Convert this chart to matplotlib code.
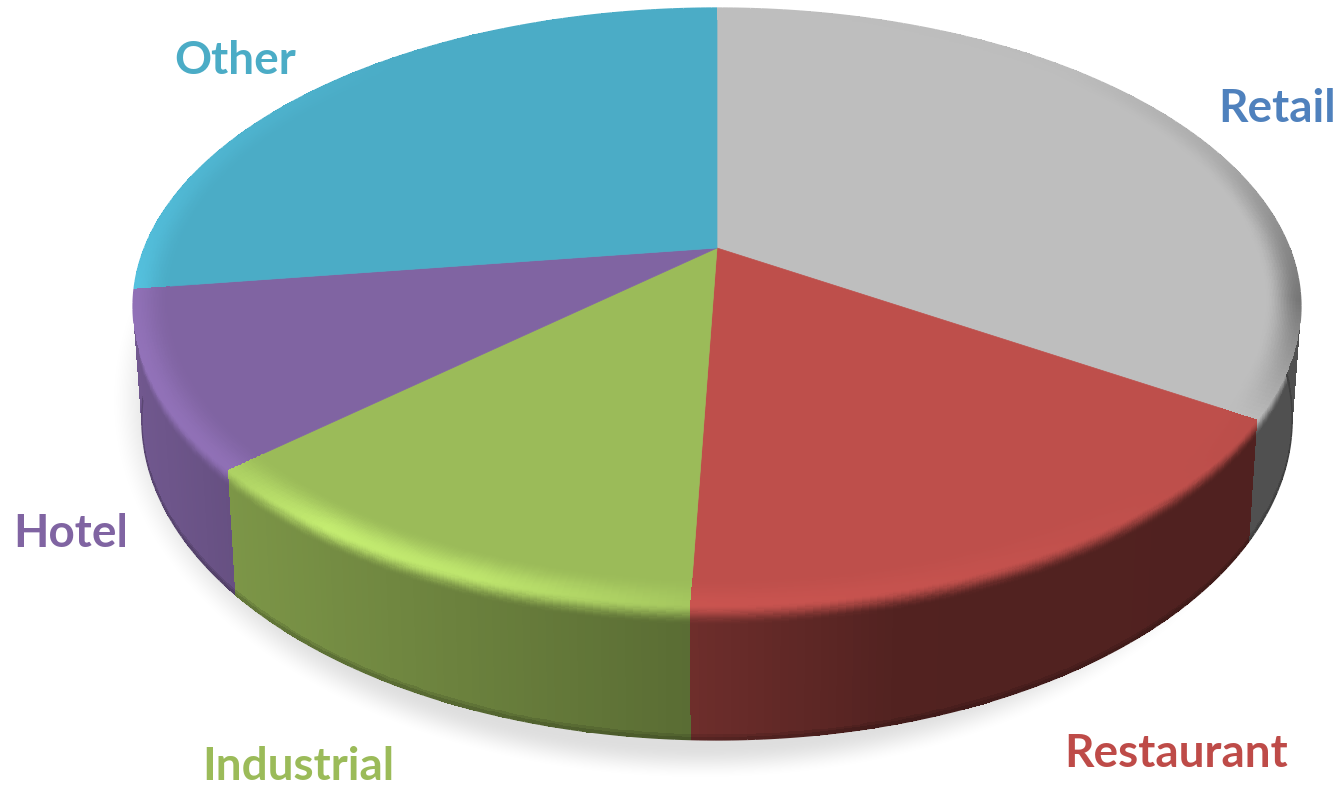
import numpy as np
import matplotlib
matplotlib.use('Agg')
import matplotlib.pyplot as plt
from matplotlib.collections import LineCollection
from matplotlib.colors import to_rgb

# sector shares in percent, clockwise from 12 o'clock
sectors = ['Retail', 'Restaurant', 'Industrial', 'Hotel', 'Other']
shares = [34.0, 16.6, 12.7, 9.5, 27.2]
face_colors = ['#BEBEBE', '#BE4F4B', '#9BBB59', '#8064A2', '#4BACC6']
label_colors = ['#4F81BD', '#BE4B48', '#9BBB59', '#8064A2', '#4BACC6']
label_pos = [(1277, 109), (1176, 754), (298, 767), (71, 534), (235, 61)]

# perspective of the disc, in pixels
cx, cy = 717, 248
w, h, k = 572.6, 287, 0.196
depth = 108.5
shrink = 0.015
rim_in = 0.94
wall_blend = 0.15


def project(theta, r=1.0, z=0.0):
    # theta is clockwise from the top, in radians
    u = r * np.sin(theta)
    v = r * np.cos(theta)
    q = 1 + k * v
    x = cx + w * u / q * (1 - shrink * z)
    y = cy - h * v / q + z * depth / q
    return x, y


def wall_light(x):
    return np.interp(x, [133, 230, 690, 900, 1300], [0.88, 0.80, 0.58, 0.43, 0.42])


def rim_gain(deg):
    return np.interp(deg, [0, 45, 70, 100, 122, 150, 182, 200, 215, 227, 229, 250, 262, 285, 320, 360],
                     [1.0, 0.99, 0.9, 0.62, 0.98, 1.02, 1.06, 1.22, 1.26, 1.12, 1.12, 1.14, 1.12, 1.06, 1.0, 1.0])


def edge_line(x, y, colors, zorder):
    # smooth outline over the unsmoothed mesh border
    pts = np.column_stack([x, y])
    segs = np.stack([pts[:-1], pts[1:]], axis=1)
    ax.add_collection(LineCollection(segs, colors=colors, linewidths=1.0, zorder=zorder))


fig = plt.figure(figsize=(13.42, 7.87), dpi=100)
ax = fig.add_axes([0, 0, 1, 1])
ax.set_xlim(0, 1342)
ax.set_ylim(787, 0)
ax.axis('off')

# soft shadow on the floor
yy, xx = np.mgrid[0:787, 0:1342]
d = np.sqrt(((xx - 700) / 592.0) ** 2 + ((yy - 400) / 380.0) ** 2)
a = np.clip((1.0 - d) / 0.09, 0, 1)
a = a * a * (3 - 2 * a) * 0.13
shadow = np.zeros((787, 1342, 4))
shadow[..., 3] = a
ax.imshow(shadow, extent=(0, 1342, 787, 0), zorder=1, aspect='auto')

edges = np.cumsum([0] + shares) / np.sum(shares) * 360.0
spans = list(zip(edges[:-1], edges[1:], face_colors))
mid_dist = [abs((s + e) / 2 - 180) for s, e, c in spans]

# side walls, far ones first
for i in np.argsort(mid_dist)[::-1]:
    start, end, col = spans[i]
    base = np.array(to_rgb(col))
    deg = np.linspace(start, end, int((end - start) * 1.5) + 2)
    z = np.r_[np.linspace(0, 0.2, 25)[:-1], np.linspace(0.2, 1, 41)]
    T, Z = np.meshgrid(np.radians(deg), z)
    X, Y = project(T, 1.0, Z)
    dc = (deg[:-1] + deg[1:]) / 2
    zc = (z[:-1] + z[1:]) / 2
    xc = (X[0, :-1] + X[0, 1:]) / 2
    rgb = np.zeros((len(zc), len(dc), 3))
    for j, zv in enumerate(zc):
        t = np.clip(zv / wall_blend, 0, 1)
        t = t * t * (3 - 2 * t)
        lit = rim_gain(dc)[:, None] * base
        wall = wall_light(xc)[:, None] * base
        c = lit * (1 - t) + wall * t
        # dark lip along the floor
        c = c * (1 - 0.25 * np.clip((zv - 0.95) / 0.05, 0, 1))
        rgb[j] = np.clip(c, 0, 1)
    ax.pcolormesh(X, Y, rgb, shading='flat', edgecolors='none', antialiased=False, zorder=2)
    edge_line(X[-1], Y[-1], rgb[-1], 2)

# flat top of each slice, then its bevel
for start, end, col in spans:
    base = np.array(to_rgb(col))
    deg = np.linspace(start, end, int((end - start) * 1.5) + 2)
    px, py = project(np.radians(deg), rim_in + 0.004)
    ax.fill(np.r_[cx, px], np.r_[cy, py], color=base, lw=0.5, zorder=3)

    r = np.linspace(rim_in, 1.0, 25)
    T, R = np.meshgrid(np.radians(deg), r)
    X, Y = project(T, R)
    dc = (deg[:-1] + deg[1:]) / 2
    rc = (r[:-1] + r[1:]) / 2
    rgb = np.zeros((len(rc), len(dc), 3))
    for j, rv in enumerate(rc):
        t = (rv - rim_in) / (1 - rim_in)
        t = t * t * (3 - 2 * t)
        gain = 1 + (rim_gain(dc) - 1) * t
        rgb[j] = np.clip(gain[:, None] * base, 0, 1)
    ax.pcolormesh(X, Y, rgb, shading='flat', edgecolors='none', antialiased=False, zorder=4)
    # the far half of the rim borders the white page
    for part in (deg <= 105, deg >= 255):
        if part.sum() > 1:
            keep = part[:-1] & part[1:]
            edge_line(X[-1][part], Y[-1][part], rgb[-1][keep], 4)

for name, pos, col in zip(sectors, label_pos, label_colors):
    ax.text(pos[0], pos[1], name, color=col, fontsize=33, fontweight='bold',
            family='Lato', ha='center', va='center', zorder=5)

fig.savefig('out.png', dpi=100)
